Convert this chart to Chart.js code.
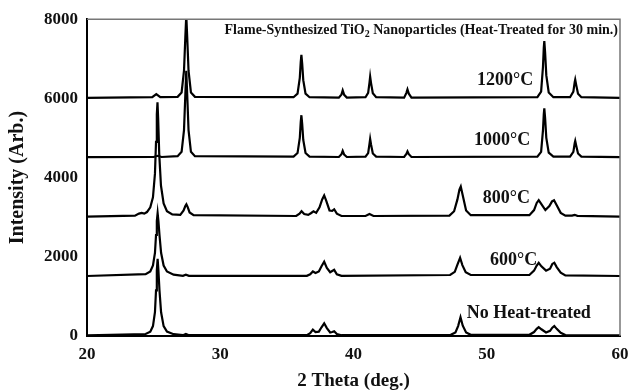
<!DOCTYPE html>
<html>
<head>
<meta charset="utf-8">
<script src="https://cdn.jsdelivr.net/npm/chart.js@4.4.1/dist/chart.umd.min.js"></script>
<style>
  html, body { margin: 0; padding: 0; background: #fff; }
  #wrap { width: 630px; height: 390px; }
</style>
</head>
<body>
<div id="wrap"><canvas id="xrd" width="630" height="390"></canvas></div>
<script>
const SERIF = "'Liberation Serif', 'DejaVu Serif', serif";

// vertical offsets of each pattern (Arb.)
const offsets = [0, 1500, 3000, 4500, 6000];
const labels = ['No Heat-treated', '600°C', '800°C', '1000°C', '1200°C'];

// as-synthesized (anatase)
const thetaRaw = [20, 24.4, 24.75, 24.95, 25.1, 25.18, 25.24, 25.3, 25.36, 25.44, 25.56, 25.75, 26.0, 26.5, 27.2, 27.42, 27.65, 36.5, 36.75, 36.95, 37.15, 37.4, 37.6, 37.8, 38.0, 38.25, 38.4, 38.55, 38.75, 39.1, 47.3, 47.65, 47.85, 48.03, 48.2, 48.45, 48.8, 53.2, 53.55, 53.75, 53.9, 54.1, 54.45, 54.75, 54.92, 55.07, 55.25, 55.55, 55.9, 60];
const intRaw = [15, 50, 110, 250, 600, 1150, 1650, 1950, 1650, 1150, 600, 250, 110, 45, 20, 50, 20, 20, 70, 160, 100, 110, 220, 320, 200, 90, 100, 120, 50, 20, 30, 90, 250, 475, 260, 90, 30, 30, 100, 180, 225, 170, 90, 130, 210, 250, 180, 80, 25, 15];

// 600 °C
const theta600 = [20, 24.4, 24.75, 24.95, 25.1, 25.18, 25.24, 25.3, 25.36, 25.44, 25.56, 25.75, 26.0, 26.5, 27.2, 27.42, 27.65, 36.5, 36.75, 36.95, 37.15, 37.4, 37.6, 37.8, 38.0, 38.25, 38.4, 38.55, 38.75, 39.1, 47.25, 47.6, 47.8, 48.0, 48.17, 48.42, 48.8, 53.2, 53.55, 53.75, 53.9, 54.1, 54.45, 54.75, 54.92, 55.07, 55.25, 55.55, 55.9, 60];
const int600 = [15, 60, 130, 280, 600, 1050, 1400, 1600, 1400, 1050, 600, 280, 130, 50, 20, 50, 20, 20, 60, 130, 90, 130, 260, 375, 220, 110, 140, 170, 60, 20, 40, 120, 300, 475, 290, 110, 40, 40, 150, 280, 350, 260, 150, 200, 320, 350, 240, 100, 30, 15];

// 800 °C (anatase + rutile)
const theta800 = [20, 23.6, 23.9, 24.1, 24.3, 24.5, 24.75, 24.95, 25.1, 25.18, 25.24, 25.29, 25.34, 25.42, 25.55, 25.75, 26.0, 26.4, 27.0, 27.25, 27.38, 27.46, 27.55, 27.7, 28.0, 35.7, 35.95, 36.1, 36.3, 36.6, 36.8, 37.0, 37.2, 37.45, 37.65, 37.8, 37.95, 38.2, 38.4, 38.55, 38.75, 39.1, 40.9, 41.2, 41.5, 47.2, 47.55, 47.8, 47.95, 48.05, 48.2, 48.45, 48.8, 53.2, 53.55, 53.75, 53.9, 54.1, 54.4, 54.7, 54.9, 55.05, 55.25, 55.55, 55.9, 56.4, 56.6, 56.8, 60];
const int800 = [15, 40, 90, 110, 90, 130, 250, 500, 1100, 1900, 2600, 2900, 2500, 1600, 800, 350, 150, 70, 60, 170, 280, 325, 260, 120, 50, 30, 90, 150, 80, 60, 100, 150, 110, 250, 450, 550, 420, 170, 160, 200, 90, 30, 30, 80, 30, 40, 150, 450, 700, 775, 550, 170, 50, 50, 180, 360, 430, 330, 180, 280, 400, 430, 300, 110, 40, 40, 60, 35, 15];

// 1000 °C (rutile)
const theta1000 = [20, 25.0, 25.3, 25.6, 26.8, 27.1, 27.28, 27.38, 27.45, 27.52, 27.62, 27.8, 28.1, 35.5, 35.8, 35.97, 36.04, 36.09, 36.15, 36.23, 36.4, 36.7, 38.9, 39.1, 39.19, 39.3, 39.5, 40.9, 41.1, 41.2, 41.25, 41.32, 41.45, 41.7, 43.8, 43.97, 44.05, 44.15, 44.35, 53.8, 54.08, 54.22, 54.28, 54.32, 54.38, 54.47, 54.65, 55.0, 56.25, 56.5, 56.6, 56.64, 56.72, 56.85, 57.1, 60];
const int1000 = [15, 20, 50, 20, 40, 150, 700, 1600, 2200, 1600, 700, 150, 40, 30, 120, 500, 900, 1075, 850, 450, 120, 30, 20, 90, 175, 80, 20, 30, 120, 350, 475, 330, 110, 30, 20, 100, 160, 90, 20, 30, 150, 700, 1100, 1250, 1000, 500, 130, 30, 30, 150, 370, 425, 300, 110, 30, 15];

// 1200 °C (rutile)
const theta1200 = [20, 24.9, 25.2, 25.5, 26.8, 27.1, 27.28, 27.38, 27.45, 27.52, 27.62, 27.8, 28.1, 35.5, 35.8, 35.97, 36.04, 36.09, 36.15, 36.23, 36.4, 36.7, 38.9, 39.1, 39.19, 39.3, 39.5, 40.9, 41.1, 41.2, 41.25, 41.32, 41.45, 41.7, 43.8, 43.97, 44.05, 44.15, 44.35, 53.8, 54.08, 54.22, 54.28, 54.32, 54.38, 54.47, 54.65, 55.0, 56.25, 56.5, 56.6, 56.64, 56.72, 56.85, 57.1, 60];
const int1200 = [15, 30, 110, 30, 40, 150, 700, 1550, 2100, 1550, 700, 150, 40, 30, 120, 520, 920, 1100, 870, 460, 120, 30, 20, 100, 200, 90, 20, 30, 140, 400, 550, 380, 130, 30, 20, 140, 225, 120, 20, 30, 170, 800, 1280, 1450, 1160, 580, 150, 30, 30, 170, 410, 475, 330, 120, 30, 15];

const thetas = [thetaRaw, theta600, theta800, theta1000, theta1200];
const intensities = [intRaw, int600, int800, int1000, int1200];

// where each curve label starts (deg, Arb.)
const labelPos = [[48.5, 575], [50.25, 1900], [49.7, 3475], [49.05, 4950], [49.27, 6450]];

const datasets = thetas.map((xs, i) => ({
  label: labels[i],
  data: xs.map((x, j) => ({ x, y: intensities[i][j] + offsets[i] })),
  borderColor: '#000',
  borderWidth: 2.2,
  pointRadius: 0,
  tension: 0,
  fill: false,
}));

const frameAndText = {
  id: 'frameAndText',
  afterDatasetsDraw(chart) {
    const { ctx, chartArea: a, scales } = chart;
    ctx.save();
    // gray top/right frame
    ctx.strokeStyle = '#777';
    ctx.lineWidth = 1.5;
    ctx.beginPath();
    ctx.moveTo(a.left, a.top);
    ctx.lineTo(a.right, a.top);
    ctx.lineTo(a.right, a.bottom);
    ctx.stroke();

    ctx.fillStyle = '#111';
    ctx.textBaseline = 'middle';
    ctx.textAlign = 'left';
    ctx.font = `bold 18px ${SERIF}`;
    labels.forEach((txt, i) => {
      const [lx, ly] = labelPos[i];
      ctx.fillText(txt, scales.x.getPixelForValue(lx), scales.y.getPixelForValue(ly));
    });

    // title with subscript, right aligned inside the frame
    const y = a.top + 11;
    const partA = 'Flame-Synthesized TiO';
    const partB = ' Nanoparticles (Heat-Treated for 30 min.)';
    const big = `bold 14px ${SERIF}`;
    const small = `bold 10px ${SERIF}`;
    ctx.font = big;
    const wA = ctx.measureText(partA).width;
    const wB = ctx.measureText(partB).width;
    ctx.font = small;
    const wSub = ctx.measureText('2').width;
    let x = a.right - 2 - (wA + wSub + wB);
    ctx.font = big;
    ctx.fillText(partA, x, y);
    x += wA;
    ctx.font = small;
    ctx.fillText('2', x, y + 4);
    x += wSub;
    ctx.font = big;
    ctx.fillText(partB, x, y);
    ctx.restore();
  },
};

new Chart(document.getElementById('xrd'), {
  type: 'line',
  data: { datasets },
  options: {
    responsive: false,
    animation: false,
    layout: { padding: { top: 16, right: 10, left: 0, bottom: 0 } },
    plugins: { legend: { display: false }, tooltip: { enabled: false } },
    scales: {
      x: {
        type: 'linear',
        min: 20,
        max: 60,
        afterFit: scale => {
          scale.height = 54;
          scale.paddingLeft = 0;
          scale.paddingRight = 0;
        },
        ticks: { stepSize: 10, color: '#111', padding: 8, font: { family: SERIF, size: 17, weight: 'bold' } },
        grid: { display: false, drawTicks: false },
        border: { color: '#000', width: 2 },
        title: { display: true, text: '2 Theta (deg.)', color: '#111', padding: { top: 12, bottom: -2 }, font: { family: SERIF, size: 19, weight: 'bold' } },
      },
      y: {
        min: 0,
        max: 8000,
        afterFit: scale => { scale.width = 87; },
        ticks: { stepSize: 2000, color: '#111', padding: 9, callback: v => String(v), font: { family: SERIF, size: 17, weight: 'bold' } },
        grid: { display: false, drawTicks: false },
        border: { color: '#000', width: 2 },
        title: { display: true, text: 'Intensity (Arb.)', color: '#111', padding: { top: 6, bottom: 0 }, font: { family: SERIF, size: 20, weight: 'bold' } },
      },
    },
  },
  plugins: [frameAndText],
});
</script>
</body>
</html>
